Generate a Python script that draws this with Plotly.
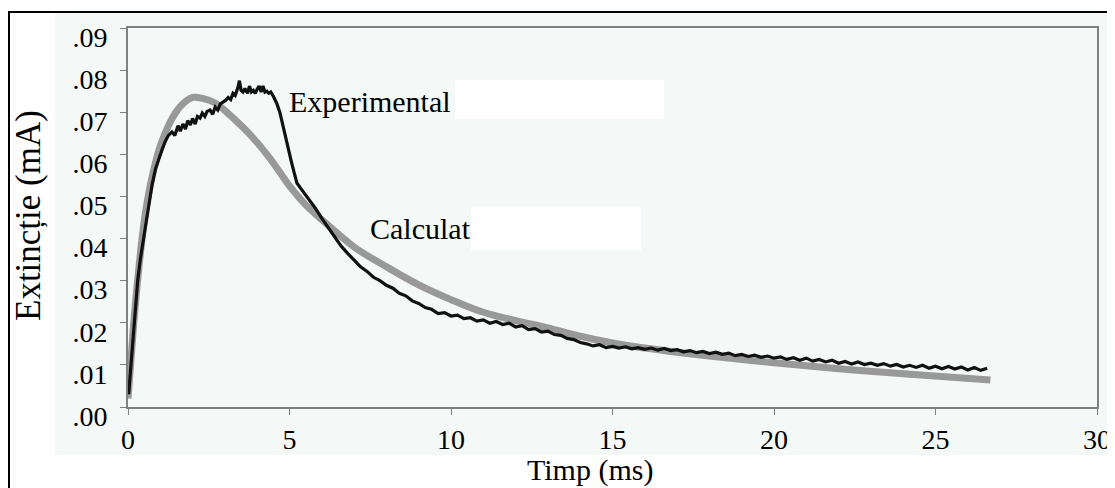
import plotly.graph_objects as go

# ---- data ----
exp_t = [0.02, 0.08, 0.15, 0.22, 0.3, 0.38, 0.46, 0.55, 0.65, 0.75, 0.85, 0.95, 1.05, 1.15, 1.25, 1.36,
         1.45, 1.55, 1.62, 1.7, 1.78, 1.85, 1.93, 2.0, 2.08, 2.15, 2.23, 2.3, 2.38, 2.45, 2.54, 2.62,
         2.7, 2.78, 2.86, 2.94, 3.02, 3.1, 3.18, 3.25, 3.32, 3.4, 3.45, 3.5, 3.56, 3.62, 3.7, 3.76,
         3.82, 3.88, 3.94, 4.0, 4.06, 4.12, 4.18, 4.24, 4.3, 4.36, 4.42, 4.5, 4.6, 4.7, 4.8, 4.92,
         5.05, 5.15, 5.23, 5.32, 5.42,
         5.6, 5.8, 6.0, 6.2, 6.4, 6.6, 6.8, 7.0, 7.2, 7.4, 7.6, 7.8, 8.0, 8.2, 8.4, 8.6, 8.8, 9.0,
         9.2, 9.4, 9.6, 9.8, 10.0, 10.2, 10.4, 10.6, 10.8, 11.0, 11.2, 11.4, 11.6, 11.8, 12.0, 12.2,
         12.4, 12.6, 12.8, 13.0, 13.2, 13.4, 13.6, 13.8, 14.0, 14.2, 14.4, 14.6, 14.8, 15.0, 15.2,
         15.4, 15.6, 15.8, 16.0, 16.2, 16.4, 16.6, 16.8, 17.0, 17.2, 17.4, 17.6, 17.8, 18.0, 18.2,
         18.4, 18.6, 18.8, 19.0, 19.2, 19.4, 19.6, 19.8, 20.0, 20.2, 20.4, 20.6, 20.8, 21.0, 21.2,
         21.4, 21.6, 21.8, 22.0, 22.2, 22.4, 22.6, 22.8, 23.0, 23.2, 23.4, 23.6, 23.8, 24.0, 24.2,
         24.4, 24.6, 24.8, 25.0, 25.2, 25.4, 25.6, 25.8, 26.0, 26.2, 26.4, 26.6]
exp_v = [0.003, 0.009, 0.016, 0.023, 0.030, 0.035, 0.039, 0.044, 0.049, 0.053, 0.0565, 0.059, 0.061,
         0.063, 0.0645, 0.0653, 0.0645, 0.0668, 0.0655, 0.0672, 0.066, 0.068, 0.067, 0.0685, 0.0672,
         0.069, 0.0686, 0.0698, 0.069, 0.0702, 0.0705, 0.0695, 0.0712, 0.0705, 0.072, 0.0724, 0.0728,
         0.0735, 0.073, 0.0745, 0.0740, 0.0758, 0.0775, 0.0752, 0.0748, 0.0756, 0.0745, 0.0762, 0.0748,
         0.0752, 0.0745, 0.0755, 0.0762, 0.0748, 0.0762, 0.0748, 0.0750, 0.0745, 0.0748, 0.0738, 0.0722,
         0.070, 0.0665, 0.0627, 0.0585, 0.0555, 0.0532, 0.0522, 0.0512,
         0.0492, 0.0472, 0.0448, 0.0425, 0.0402, 0.0382, 0.0365, 0.0348, 0.0333, 0.0322, 0.0308, 0.0300,
         0.0289, 0.0282, 0.0270, 0.0264, 0.0252, 0.0246, 0.0236, 0.0232, 0.0222, 0.0224, 0.0216, 0.0218,
         0.0210, 0.0212, 0.0204, 0.0207, 0.0199, 0.0203, 0.0196, 0.0199, 0.0190, 0.0193, 0.0184, 0.0186,
         0.0178, 0.0180, 0.0172, 0.0170, 0.0163, 0.0160, 0.0153, 0.0150, 0.0145, 0.0148, 0.0141, 0.0144,
         0.0140, 0.0143, 0.0138, 0.0141, 0.0137, 0.0140, 0.0135, 0.0139, 0.0134, 0.0136, 0.0131, 0.0134,
         0.0129, 0.0132, 0.0127, 0.0130, 0.0125, 0.0128, 0.0122, 0.0125, 0.0120, 0.0123, 0.0118, 0.0121,
         0.0116, 0.0119, 0.0113, 0.0117, 0.0111, 0.0116, 0.0109, 0.0113, 0.0107, 0.0111, 0.0104, 0.0108,
         0.0102, 0.0107, 0.0101, 0.0104, 0.0099, 0.0103, 0.0097, 0.0101, 0.0095, 0.0099, 0.0094, 0.0099,
         0.0092, 0.0097, 0.0091, 0.0096, 0.0090, 0.0095, 0.0088, 0.0094, 0.0087, 0.0092]

calc_t = [0.0, 0.1, 0.2, 0.35, 0.5, 0.7, 1.0, 1.4, 1.7, 2.0, 2.3, 2.7, 3.2, 3.8, 4.4, 5.0, 5.5, 6.0,
          7.0, 8.0, 9.0, 10.0, 11.0, 12.0, 13.0, 14.0, 15.0, 16.0, 17.0, 18.0, 20.0, 22.0, 24.0, 26.7]
calc_v = [0.002, 0.012, 0.022, 0.034, 0.044, 0.053, 0.062, 0.069, 0.072, 0.0735, 0.0733, 0.0722,
          0.069, 0.0645, 0.059, 0.0525, 0.048, 0.0445, 0.038, 0.0333, 0.029, 0.0255, 0.0225, 0.0205,
          0.0188, 0.0168, 0.0152, 0.0140, 0.0130, 0.0121, 0.0105, 0.0091, 0.0079, 0.0064]

x_ticks = [0, 5, 10, 15, 20, 25, 30]
x_labels = ["0", "5", "10", "15", "20", "25", "30"]
y_ticks = [0.00, 0.01, 0.02, 0.03, 0.04, 0.05, 0.06, 0.07, 0.08, 0.09]
y_labels = [".00", ".01", ".02", ".03", ".04", ".05", ".06", ".07", ".08", ".09"]

x_title = "Timp (ms)"
y_title = "Extincție (mA)"
label_exp = "Experimental"
label_calc = "Calculat"

FONT = "Liberation Serif"
BG = "#f4f8f6"
AX = "#808080"

# page has an 8px body margin; figure is sized so the visible window matches
OFF = 8
FIG_W, FIG_H = 1115 - OFF, 488 - OFF
PL, PR, PT, PB = 128 - OFF, 1097 - OFF, 28 - OFF, 407 - OFF   # plot box in figure pixels

fig = go.Figure()
fig.add_trace(go.Scatter(x=calc_t, y=calc_v, mode="lines", line=dict(color="#999999", width=7),
                         line_shape="spline", showlegend=False, hoverinfo="skip"))
fig.add_trace(go.Scatter(x=exp_t, y=exp_v, mode="lines", line=dict(color="#111111", width=3.2),
                         showlegend=False, hoverinfo="skip"))

fig.update_layout(
    width=FIG_W, height=FIG_H,
    margin=dict(l=PL, r=FIG_W - PR, t=PT, b=FIG_H - PB, autoexpand=False),
    paper_bgcolor="white", plot_bgcolor=BG,
    font=dict(family=FONT, color="black"),
    xaxis=dict(range=[0, 30], tickvals=x_ticks, ticktext=x_labels, showgrid=False, zeroline=False,
               showline=True, linecolor=AX, linewidth=2, mirror=True,
               ticks="outside", ticklen=6, tickcolor=AX, tickwidth=1,
               tickfont=dict(size=28, family=FONT), ticklabelstandoff=0),
    yaxis=dict(range=[0, 0.09], tickvals=y_ticks, ticktext=y_labels, showgrid=False, zeroline=False,
               showline=True, linecolor=AX, linewidth=2, mirror=True,
               ticks="outside", ticklen=6, tickcolor=AX, tickwidth=1,
               tickfont=dict(size=28, family=FONT), ticklabelshift=9,
               ticklabelstandoff=7),
)

W, H = float(PR - PL), float(PB - PT)
def px(xp):  # page pixel -> paper x
    return (xp - OFF - PL) / W
def py(yp):  # page pixel -> paper y
    return (PB - (yp - OFF)) / H

shapes = [
    dict(type="rect", xref="paper", yref="paper", x0=px(55), x1=px(1130), y0=py(455), y1=py(12),
         fillcolor=BG, line=dict(width=0), layer="below"),
    dict(type="rect", xref="paper", yref="paper", x0=px(455), x1=px(664), y0=py(119), y1=py(80),
         fillcolor="white", line=dict(width=0), layer="above"),
    dict(type="rect", xref="paper", yref="paper", x0=px(471), x1=px(641), y0=py(250), y1=py(207),
         fillcolor="white", line=dict(width=0), layer="above"),
    dict(type="rect", xref="paper", yref="paper", x0=px(9), x1=px(1140), y0=py(510), y1=py(12),
         fillcolor="rgba(0,0,0,0)", line=dict(color="black", width=2), layer="above"),
]
fig.update_layout(shapes=shapes)

ann = [
    dict(text=label_exp, x=px(287), y=py(101.5), xanchor="left", yanchor="middle", size=30, angle=0),
    dict(text=label_calc, x=px(368), y=py(228), xanchor="left", yanchor="middle", size=30, angle=0),
    dict(text=x_title, x=px(590), y=py(470), xanchor="center", yanchor="middle", size=30, angle=0),
    dict(text=y_title, x=px(28), y=py(216), xanchor="center", yanchor="middle", size=35, angle=-90),
]
for a in ann:
    fig.add_annotation(xref="paper", yref="paper", showarrow=False, text=a["text"],
                       x=a["x"], y=a["y"], xanchor=a["xanchor"], yanchor=a["yanchor"],
                       textangle=a["angle"],
                       font=dict(family=FONT, size=a["size"], color="black"))

fig.write_html("out.html")
